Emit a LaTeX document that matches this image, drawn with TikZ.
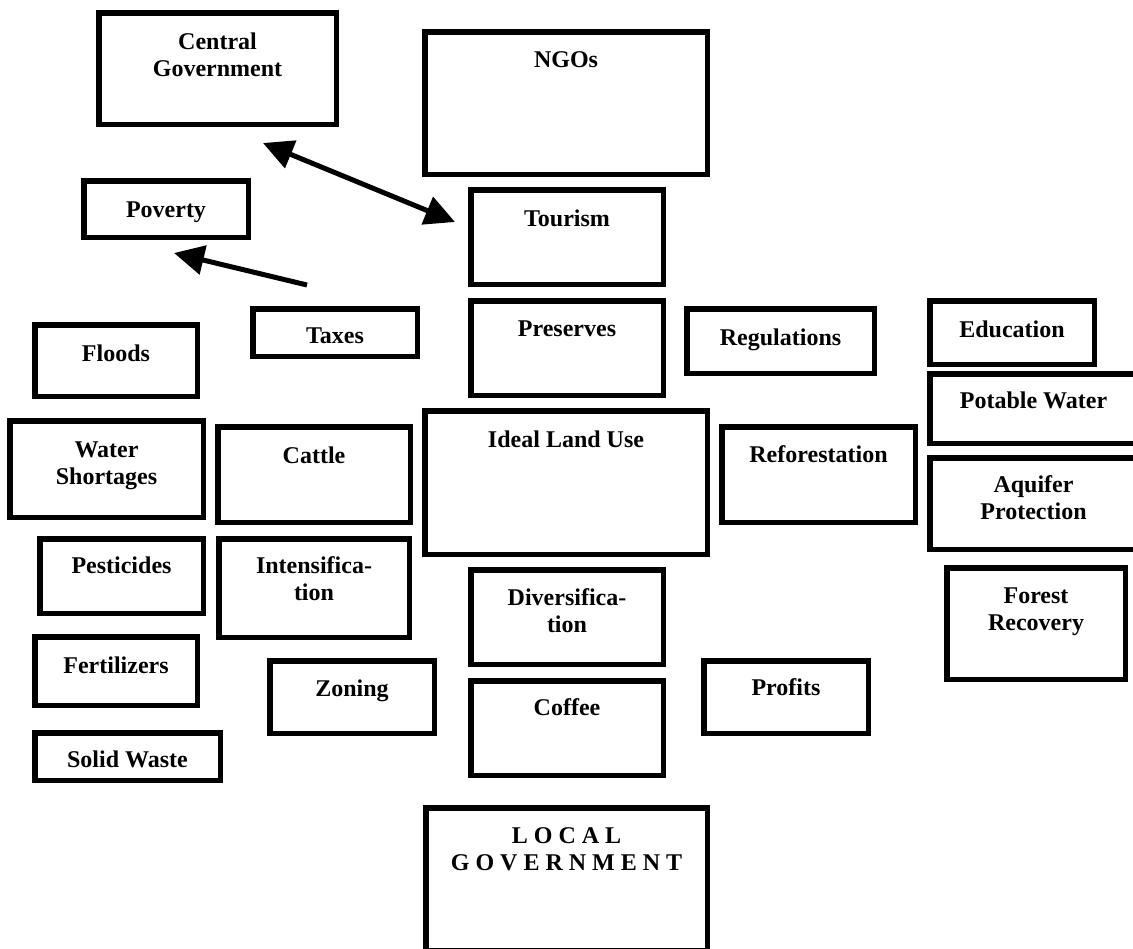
\documentclass[tikz,border=0pt]{standalone}
\usepackage{fontspec}
\setmainfont{Liberation Serif}
\usetikzlibrary{arrows.meta}
\newcommand\twol[1]{\begin{tabular}[t]{@{}c@{}}#1\end{tabular}}
\tikzset{
  box/.style={draw=black, line width=2.75pt, inner sep=0pt, fill=white},
  txt/.style={font=\fontsize{12}{13.5}\selectfont\bfseries, inner sep=0pt, anchor=base},
  conn/.style={line width=2.5pt, draw=black},
  tip/.tip={Triangle[length=15pt,width=14.5pt]}
}
% name, x1, y1, x2, y2, baseline offset, text
\newcommand\bx[7]{%
  \node[box, minimum width={(#4-#2)*0.5pt-2.75pt}, minimum height={(#5-#3)*0.5pt-2.75pt},
        label={[txt, yshift={-(#6)*0.5pt}]above:{\twol{#7}}}] (#1) at ({(#2+#4)/2},{(#3+#5)/2}) {};}
\begin{document}
\begin{tikzpicture}[x=0.5pt, y=-0.5pt]
\useasboundingbox (0,0) rectangle (1133,948);
\clip (0,0) rectangle (1133,948);
\bx{cg}{96}{10}{339}{127}{39}{Central\\Government}
\bx{ngo}{422}{29}{710}{177}{38}{NGOs}
\bx{pov}{81}{178}{251}{240}{39}{Poverty}
\bx{tour}{468}{187}{666}{287}{39}{Tourism}
\bx{tax}{250}{306}{420}{359}{37}{Taxes}
\bx{flood}{32}{322}{200}{399}{39}{Floods}
\bx{pres}{468}{298}{666}{398}{38}{Preserves}
\bx{reg}{684}{306}{877}{376}{39}{Regulations}
\bx{edu}{927}{298}{1097}{367}{39}{Education}
\bx{pot}{927}{371}{1140}{446}{37}{Potable Water}
\bx{ws}{7}{418}{206}{520}{39}{Water\\Shortages}
\bx{cat}{215}{424}{413}{525}{39}{Cattle}
\bx{ilu}{422}{408}{710}{557}{39}{Ideal Land Use}
\bx{ref}{719}{424}{918}{525}{38}{Reforestation}
\bx{aq}{927}{455}{1140}{552}{37}{Aquifer\\Protection}
\bx{pest}{37}{536}{206}{616}{37}{Pesticides}
\bx{int}{216}{536}{412}{640}{37}{Intensifica-\\tion}
\bx{div}{468}{567}{666}{667}{38}{Diversifica-\\tion}
\bx{fr}{944}{565}{1128}{682}{38}{Forest\\Recovery}
\bx{fert}{32}{634}{200}{708}{39}{Fertilizers}
\bx{zon}{267}{658}{437}{736}{38}{Zoning}
\bx{cof}{468}{678}{666}{778}{37}{Coffee}
\bx{prof}{701}{658}{871}{736}{37}{Profits}
\bx{sw}{32}{730}{223}{783}{37}{Solid Waste}
\bx{lg}{423}{805}{710}{953}{38}{L O C A L\\G O V E R N M E N T}
\coordinate (a1) at (263,143);
\coordinate (a2) at (455,222);
\coordinate (b1) at (307,285);
\coordinate (b2) at (174,253);
\draw[conn, tip-tip] (a1) -- (a2);
\draw[conn, -tip] (b1) -- (b2);
\end{tikzpicture}
\end{document}
